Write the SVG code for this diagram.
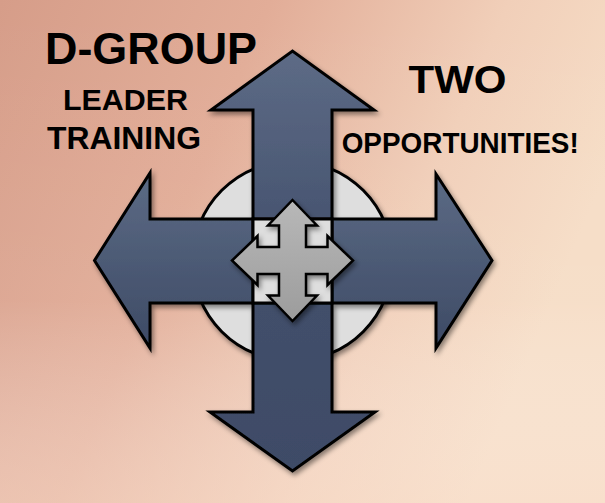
<svg xmlns="http://www.w3.org/2000/svg" width="605" height="503" viewBox="0 0 605 503">
  <defs>
    <linearGradient id="bg" x1="0" y1="0" x2="1" y2="0.35">
      <stop offset="0" stop-color="#d69d89"/>
      <stop offset="0.4" stop-color="#e2ad98"/>
      <stop offset="0.75" stop-color="#f1cfb9"/>
      <stop offset="1" stop-color="#f6ddc6"/>
    </linearGradient>
    <linearGradient id="bg2" x1="0" y1="0" x2="0" y2="1">
      <stop offset="0" stop-color="#ffffff" stop-opacity="0"/>
      <stop offset="0.6" stop-color="#ffffff" stop-opacity="0.05"/>
      <stop offset="1" stop-color="#fbe3d3" stop-opacity="0.45"/>
    </linearGradient>
    <linearGradient id="blue" x1="0" y1="0" x2="0" y2="1">
      <stop offset="0" stop-color="#5c6b85"/>
      <stop offset="1" stop-color="#3d4a65"/>
    </linearGradient>
    <linearGradient id="blueV" gradientUnits="userSpaceOnUse" x1="0" y1="51" x2="0" y2="471">
      <stop offset="0" stop-color="#5d6b86"/>
      <stop offset="0.5" stop-color="#43506c"/>
      <stop offset="1" stop-color="#3e4b66"/>
    </linearGradient>
    <linearGradient id="gray" x1="0" y1="0" x2="0" y2="1">
      <stop offset="0" stop-color="#b8b8b8"/>
      <stop offset="1" stop-color="#9c9c9c"/>
    </linearGradient>
    <filter id="sh" x="-20%" y="-20%" width="140%" height="140%">
      <feDropShadow dx="2" dy="3" stdDeviation="2.5" flood-color="#000" flood-opacity="0.45"/>
    </filter>
    <style>
      .big { fill: url(#blueV); stroke: #000; stroke-width: 3; stroke-linejoin: miter; }
      .bigh { fill: url(#blue); stroke: #000; stroke-width: 3; stroke-linejoin: miter; }
      .light { fill: #dedede; stroke: #000; stroke-width: 3; }
      .small { fill: url(#gray); stroke: #000; stroke-width: 2.5; stroke-linejoin: miter; }
      .t { font-family: "Liberation Sans", Arial, sans-serif; font-weight: bold; fill: #000; }
    </style>
  </defs>

  <g id="background">
    <rect x="0" y="0" width="605" height="503" fill="url(#bg)"/>
    <rect x="0" y="0" width="605" height="503" fill="url(#bg2)"/>
  </g>

  <g id="circle" filter="url(#sh)">
    <circle cx="292.5" cy="261" r="100" class="light"/>
  </g>

  <g id="arrows" filter="url(#sh)">
    <g id="arrow-up"><polygon class="big" points="253,219 253,110 211,110 292.5,51 374,110 332,110 332,219"/></g>
    <g id="arrow-down"><polygon class="big" points="253,303 253,412 210,412 292.5,471 375,412 332,412 332,303"/></g>
    <g id="arrow-left"><polygon class="bigh" points="253,219 150,219 150,173 94.5,260.5 150,348 150,303 253,303"/></g>
    <g id="arrow-right"><polygon class="bigh" points="332,219 436,219 436,174 492,260.5 436,348 436,303 332,303"/></g>
    <g id="center-square"><rect class="light" x="253" y="219" width="79" height="84"/></g>
  </g>

  <g id="small-arrow" filter="url(#sh)">
    <polygon class="small" points="292.5,200 317,225.5 306,225.5 306,247 327.5,247 327.5,236 353,260.5 327.5,285 327.5,274 306,274 306,295.5 317,295.5 292.5,321 268,295.5 279,295.5 279,274 257.5,274 257.5,285 232,260.5 257.5,236 257.5,247 279,247 279,225.5 268,225.5"/>
  </g>

  <g id="title-left">
    <text class="t" x="45" y="63.5" font-size="44" textLength="212" lengthAdjust="spacingAndGlyphs">D-GROUP</text>
    <text class="t" x="63" y="110" font-size="30" textLength="125" lengthAdjust="spacingAndGlyphs">LEADER</text>
    <text class="t" x="47" y="148.5" font-size="32" textLength="154" lengthAdjust="spacingAndGlyphs">TRAINING</text>
  </g>

  <g id="title-right">
    <text class="t" x="408.5" y="92.7" font-size="38" textLength="98" lengthAdjust="spacingAndGlyphs">TWO</text>
    <text class="t" x="341.7" y="153.3" font-size="30" textLength="237" lengthAdjust="spacingAndGlyphs">OPPORTUNITIES!</text>
  </g>
</svg>
